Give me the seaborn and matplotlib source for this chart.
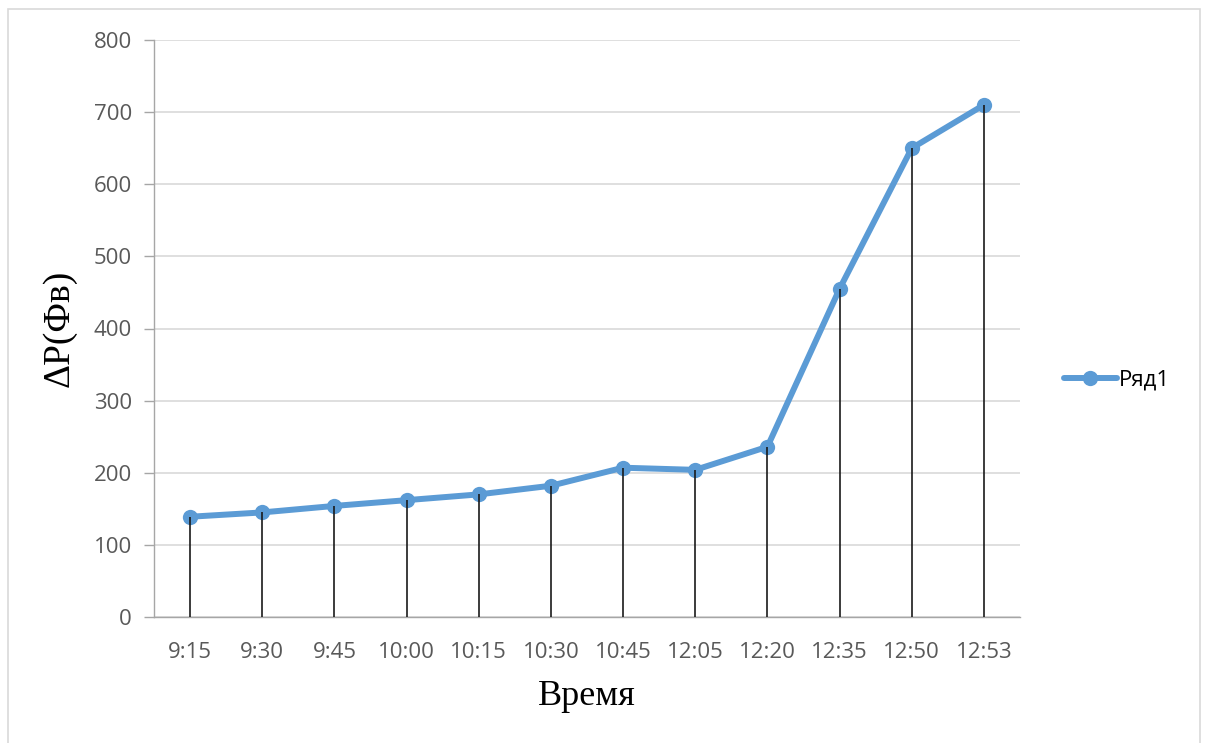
import matplotlib
matplotlib.use("Agg")
import matplotlib.pyplot as plt
from matplotlib.patches import Rectangle
import seaborn as sns
import pandas as pd

# Measurement times and pressure drop values
times = ["9:15", "9:30", "9:45", "10:00", "10:15", "10:30",
         "10:45", "12:05", "12:20", "12:35", "12:50", "12:53"]
dp_values = [139, 145, 154, 162, 170, 182, 207, 204, 236, 455, 650, 710]
series_name = "Ряд1"
y_ticks = [0, 100, 200, 300, 400, 500, 600, 700, 800]

sns.set_theme(style="white")
plt.rcParams["font.family"] = ["Open Sans", "DejaVu Sans"]

df = pd.DataFrame({"pos": range(len(times)), "dp": dp_values, "time": times})

fig = plt.figure(figsize=(12.07, 7.43), dpi=100)
ax = fig.add_axes([154 / 1207, 1 - 617 / 743, (1020 - 154) / 1207, (617 - 40) / 743])

# outer chart frame
fig.patches.append(Rectangle((8 / 1207, -0.02), (1200 - 8) / 1207, 1.02 - 9 / 743,
                             transform=fig.transFigure, fill=False,
                             edgecolor="#D9D9D9", linewidth=1.2, zorder=0))

blue = "#5B9BD5"
sns.lineplot(data=df, x="pos", y="dp", ax=ax, color=blue, linewidth=4.3,
             marker="o", markersize=11, markeredgewidth=0, label=series_name,
             zorder=3)

# drop lines from each point down to the axis
ax.vlines(df["pos"], 0, df["dp"], color="#1A1A1A", linewidth=1.2, zorder=4)

ax.set_xlim(-0.5, len(times) - 0.5)
ax.set_ylim(0, 800)
ax.set_yticks(y_ticks)
ax.set_xticks(df["pos"])
ax.set_xticklabels(times)

ax.grid(axis="y", color="#D9D9D9", linewidth=1.2, zorder=0)
ax.set_axisbelow(True)
for side in ("top", "right"):
    ax.spines[side].set_visible(False)
for side in ("left", "bottom"):
    ax.spines[side].set_color("#A6A6A6")
    ax.spines[side].set_linewidth(1.0)

ax.tick_params(axis="y", which="both", left=True, length=7, width=1.0,
               color="#A6A6A6", labelsize=16, labelcolor="#595959", pad=9)
ax.tick_params(axis="x", bottom=False, labelsize=16, labelcolor="#595959", pad=12)

ax.set_xlabel("Время", family="Liberation Serif", fontsize=26, color="black", labelpad=12)
ax.set_ylabel("ΔP(Фв)", family="Liberation Serif", fontsize=27, color="black", labelpad=12)

leg = ax.legend(loc="center left", bbox_to_anchor=(1.04, 0.41), frameon=False,
                fontsize=16, handlelength=2.4, handletextpad=0.1,
                borderaxespad=0)
for t in leg.get_texts():
    t.set_color("black")

fig.savefig("out.png", dpi=100)
